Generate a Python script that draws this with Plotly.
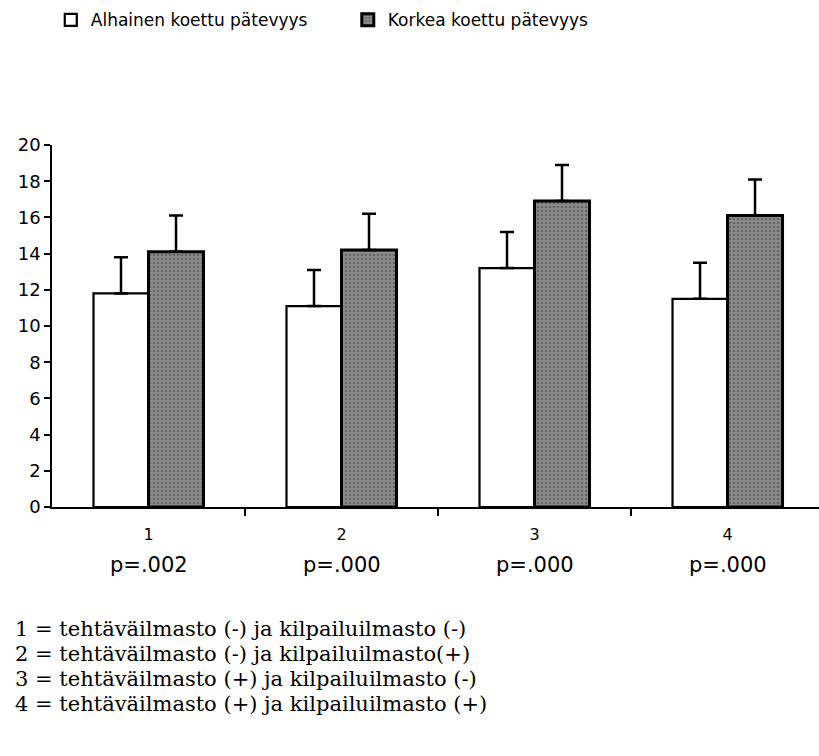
import plotly.graph_objects as go

categories = [1, 2, 3, 4]
cat_labels = ["1", "2", "3", "4"]
p_values = ["p=.002", "p=.000", "p=.000", "p=.000"]
low_means = [11.8, 11.1, 13.2, 11.5]
low_sd = [2.0, 2.0, 2.0, 2.0]
high_means = [14.1, 14.2, 16.9, 16.1]
high_sd = [2.0, 2.0, 2.0, 2.0]
series_names = ["Alhainen koettu pätevyys", "Korkea koettu pätevyys"]
y_ticks = [0, 2, 4, 6, 8, 10, 12, 14, 16, 18, 20]
footnotes = [
    "1 = tehtäväilmasto (-) ja kilpailuilmasto (-)",
    "2 = tehtäväilmasto (-) ja kilpailuilmasto(+)",
    "3 = tehtäväilmasto (+) ja kilpailuilmasto (-)",
    "4 = tehtäväilmasto (+) ja kilpailuilmasto (+)",
]

W, H = 819, 756
L, T, B, R = 52, 145, 249, 0
PLOT_H = H - T - B
SANS = "DejaVu Sans"
SERIF = "DejaVu Serif"

fig = go.Figure()
fig.add_trace(go.Bar(
    x=categories, y=low_means, name=series_names[0],
    marker=dict(color="white", line=dict(color="black", width=2.2)),
    error_y=dict(type="data", symmetric=False, array=low_sd,
                 arrayminus=[0] * len(low_sd), color="black",
                 thickness=2.5, width=7),
))
fig.add_trace(go.Bar(
    x=categories, y=high_means, name=series_names[1],
    marker=dict(color="#8c8c8c", line=dict(color="black", width=3),
                pattern=dict(shape=".", fgcolor="#404040", size=4,
                             solidity=0.35)),
    error_y=dict(type="data", symmetric=False, array=high_sd,
                 arrayminus=[0] * len(high_sd), color="black",
                 thickness=2.5, width=7),
))

for c, p in zip(categories, p_values):
    fig.add_annotation(x=c, y=-58 / PLOT_H, xref="x", yref="paper", text=p,
                       xanchor="center", yanchor="middle",
                       showarrow=False, font=dict(family=SANS, size=21,
                                                  color="black"))

for i, line in enumerate(footnotes):
    fig.add_annotation(x=-39 / 767, y=-(122 + 25 * i) / PLOT_H,
                       xref="paper", yref="paper",
                       xanchor="left", yanchor="middle", align="left",
                       text=line, showarrow=False,
                       font=dict(family=SERIF, size=21, color="black"))

fig.update_layout(
    width=W, height=H,
    margin=dict(l=L, r=R, t=T, b=B),
    paper_bgcolor="white", plot_bgcolor="white",
    barmode="group", bargap=0.43, bargroupgap=0,
    font=dict(family=SANS, color="black"),
    legend=dict(orientation="h", xref="container", yref="container",
                x=0.062, y=0.997, xanchor="left", yanchor="top",
                font=dict(size=17, family=SANS),
                entrywidth=252, itemwidth=30),
    xaxis=dict(range=[0.5, 4.474], tickvals=categories, ticktext=cat_labels,
               ticks="", showgrid=False, zeroline=False,
               showline=True, linecolor="black", linewidth=1.5,
               tickfont=dict(size=16), ticklabelstandoff=12,
               minor=dict(tickvals=[1.5, 2.5, 3.5], ticks="outside",
                          ticklen=7, tickcolor="black", tickwidth=1.5)),
    yaxis=dict(range=[0, 20], tickvals=y_ticks, ticks="outside", ticklen=6,
               tickcolor="black", tickwidth=1.5, showgrid=False,
               zeroline=False, showline=True, linecolor="black",
               linewidth=1.5, tickfont=dict(size=18)),
)

fig.write_html("out.html")
